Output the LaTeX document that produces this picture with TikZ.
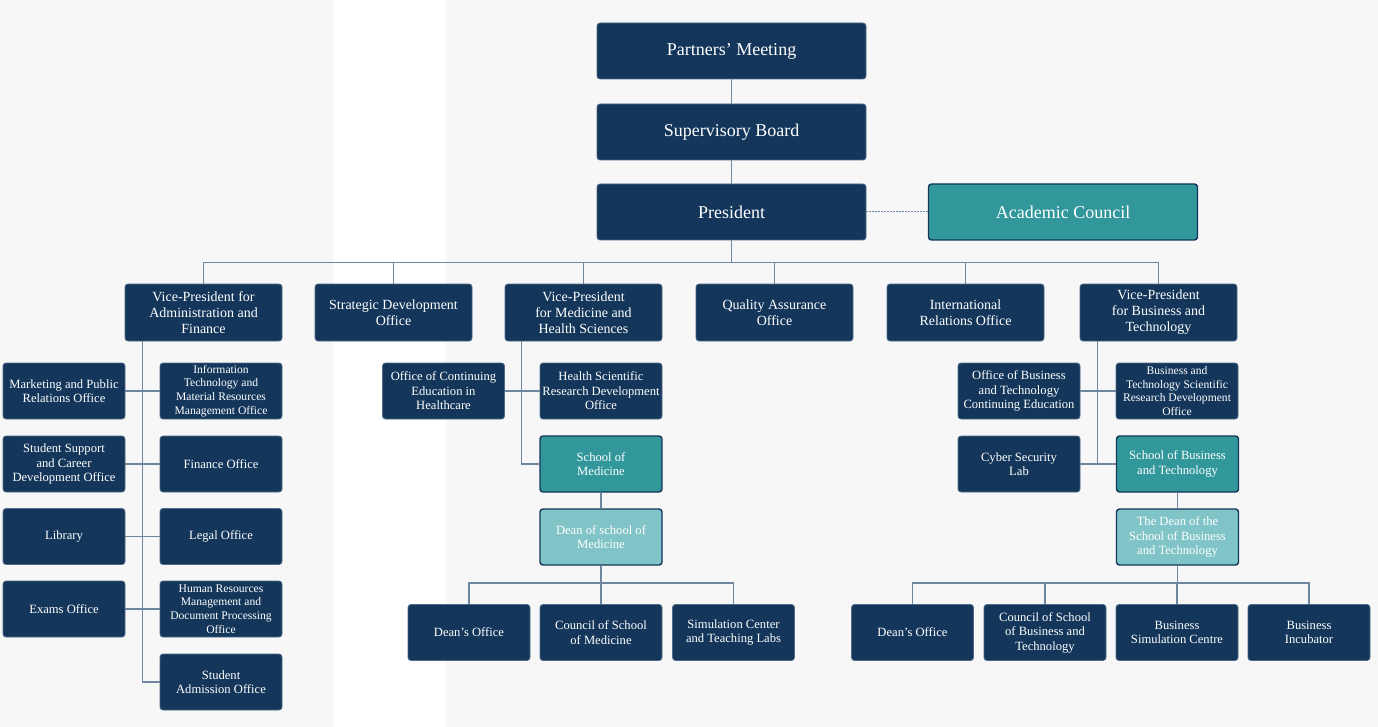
\documentclass[tikz,border=0pt]{standalone}
\usepackage{fontspec}
\setmainfont{Liberation Serif}
\definecolor{navy}{HTML}{13365A}
\definecolor{navyedge}{HTML}{4F6B88}
\definecolor{teal1}{HTML}{31979A}
\definecolor{teal2}{HTML}{80C4C7}
\definecolor{linec}{HTML}{6F86A0}
\definecolor{bgc}{HTML}{F7F7F7}
\tikzset{
  box/.style={draw=navyedge, line width=0.8pt, fill=navy, text=white, rounded corners=3pt, inner sep=0pt, align=center},
  big/.style={box, minimum width=269pt, minimum height=56pt, font=\fontsize{18}{21}\selectfont},
  mid/.style={box, minimum width=157pt, minimum height=57pt, font=\fontsize{14}{16}\selectfont},
  sml/.style={box, minimum width=122pt, minimum height=56pt, font=\fontsize{12.6}{14.5}\selectfont},
  tny/.style={box, minimum width=122pt, minimum height=56pt, font=\fontsize{11.6}{13.7}\selectfont},
  tealbox/.style={fill=teal1, draw=navy, line width=1.4pt},
  lteal/.style={fill=teal2, draw=navy, line width=1.4pt},
  conn/.style={draw=linec, line width=1.6pt},
}
\begin{document}
\begin{tikzpicture}[x=1pt,y=-1pt]
\fill[bgc] (0,0) rectangle (1378,727);
\fill[white] (334,0) rectangle (446,727);
\useasboundingbox (0,0) rectangle (1378,727);

% top
\node[big] (pm) at (731.5,51) {Partners’ Meeting};
\node[big] (sb) at (731.5,132) {Supervisory Board};
\node[big] (pres) at (731.5,212) {President};
\node[big,tealbox] (ac) at (1063,212) {Academic Council};

% row 2
\node[mid] (vpa) at (203.5,312.5) {Vice-President for\\Administration and\\Finance};
\node[mid] (sdo) at (393.5,312.5) {Strategic Development\\Office};
\node[mid] (vpm) at (583.5,312.5) {Vice-President\\for Medicine and\\Health Sciences};
\node[mid] (qao) at (774.5,312.5) {Quality Assurance\\Office};
\node[mid] (iro) at (965.5,312.5) {International\\Relations Office};
\node[mid] (vpb) at (1158.5,312.5) {Vice-President\\for Business and\\Technology};

% left column
\node[sml] (mpr) at (64,391) {Marketing and Public\\Relations Office};
\node[tny] (itm) at (221,391) {Information\\Technology and\\Material Resources\\Management Office};
\node[sml] (ssc) at (64,464) {Student Support\\and Career\\Development Office};
\node[sml] (fin) at (221,464) {Finance Office};
\node[sml] (lib) at (64,536.5) {Library};
\node[sml] (leg) at (221,536.5) {Legal Office};
\node[sml] (exm) at (64,609) {Exams Office};
\node[tny] (hrm) at (221,609) {Human Resources\\Management and\\Document Processing\\Office};
\node[sml] (sao) at (221,682) {Student\\Admission Office};

% medicine
\node[sml] (oce) at (443.5,391) {Office of Continuing\\Education in\\Healthcare};
\node[sml] (hsr) at (601,391) {Health Scientific\\Research Development\\Office};
\node[sml,tealbox] (som) at (601,464) {School of\\Medicine};
\node[sml,lteal] (dsm) at (601,537) {Dean of school of\\Medicine};
\node[sml] (do1) at (469,632.5) {Dean’s Office};
\node[sml] (csm) at (601,632.5) {Council of School\\of Medicine};
\node[sml] (sim) at (733.5,632.5) {Simulation Center\\and Teaching Labs};

% business
\node[sml] (obt) at (1019,391) {Office of Business\\and Technology\\Continuing Education};
\node[tny] (bts) at (1177,391) {Business and\\Technology Scientific\\Research Development\\Office};
\node[sml] (csl) at (1019,464) {Cyber Security\\Lab};
\node[sml,tealbox] (sbt) at (1177.5,464) {School of Business\\and Technology};
\node[sml,lteal] (dsb) at (1177.5,537) {The Dean of the\\School of Business\\and Technology};
\node[sml] (do2) at (912.5,632.5) {Dean’s Office};
\node[sml] (cbt) at (1045,632.5) {Council of School\\of Business and\\Technology};
\node[sml] (bsc) at (1177,632.5) {Business\\Simulation Centre};
\node[sml] (bin) at (1309,632.5) {Business\\Incubator};

% connectors top
\draw[conn] (pm.south) -- (sb.north);
\draw[conn] (sb.south) -- (pres.north);
\draw[draw=linec, line width=1pt, dash pattern=on 2pt off 1pt] (pres.east) -- (ac.west);
\draw[conn] (pres.south) -- ++(0,22) coordinate (bus);
\foreach \n in {vpa,sdo,vpm,qao,iro,vpb} \draw[conn] (bus) -| (\n.north);

% left spine
\draw[conn] ([xshift=18pt]vpa.south west) |- (sao.west);
\draw[conn] (mpr.east) -- (itm.west);
\draw[conn] (ssc.east) -- (fin.west);
\draw[conn] (lib.east) -- (leg.west);
\draw[conn] (exm.east) -- (hrm.west);

% medicine
\draw[conn] ([xshift=17pt]vpm.south west) |- (som.west);
\draw[conn] (oce.east) -- (hsr.west);
\draw[conn] (som.south) -- (dsm.north);
\draw[conn] (dsm.south) -- ++(0,17) coordinate (mb);
\foreach \n in {do1,csm,sim} \draw[conn] (mb) -| (\n.north);

% business
\draw[conn] ([xshift=18pt]vpb.south west) |- (sbt.west);
\draw[conn] (obt.east) -- (bts.west);
\draw[conn] (csl.east) -- (sbt.west);
\draw[conn] (sbt.south) -- (dsb.north);
\draw[conn] (dsb.south) -- ++(0,17) coordinate (bb);
\foreach \n in {do2,cbt,bsc,bin} \draw[conn] (bb) -| (\n.north);
\end{tikzpicture}
\end{document}
